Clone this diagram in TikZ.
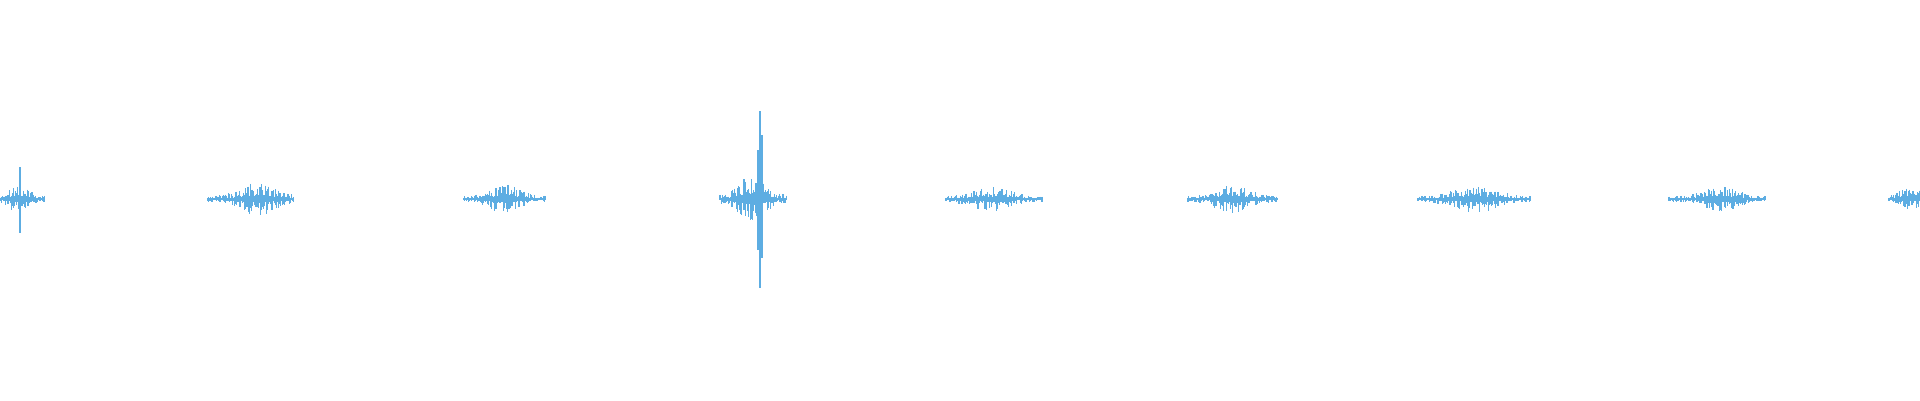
\documentclass[tikz,border=0pt]{standalone}
\usepackage{tikz}
\definecolor{waveblue}{HTML}{5DADE2}
\tikzset{
  wave/.style={draw=waveblue, line width=1.1pt},
  spike/.style={draw=waveblue, line width=1.6pt}
}
\begin{document}
\begin{tikzpicture}[x=1pt, y=-1pt]
\useasboundingbox[fill=white] (0,0) rectangle (1920,400);
\pgfmathsetseed{4242}
% bursts: start/end/centre/spread/amplitude
\foreach \xa/\xb/\cx/\sp/\amp in {
  0/45/18/14/14,
  208/294/258/22/17,
  464/546/505/20/15,
  720/787/752/16/24,
  946/1043/992/28/12,
  1188/1278/1232/22/15,
  1418/1531/1475/28/14,
  1669/1765/1720/22/14,
  1889/1920/1910/16/11
} {
  \draw[wave, line width=1.5pt] (\xa,199) -- (\xb,199);
  \pgfmathtruncatemacro\nsteps{(\xb-\xa)/0.8}
  \foreach \k in {0,...,\nsteps} {
    \pgfmathsetmacro\x{\xa+0.8*\k}
    \pgfmathsetmacro\env{\amp*(0.2+0.8*exp(-((\x-\cx)/\sp)^2))}
    \pgfmathsetmacro\up{\env*(0.2+0.8*rnd^2)}
    \pgfmathsetmacro\dn{\env*(0.2+0.8*rnd^2)}
    \draw[wave] (\x,199-\up) -- (\x,199+\dn);
  }
}
% tall spikes
\draw[spike] (20,167) -- (20,233);
\draw[spike] (760,111) -- (760,288);
\draw[spike] (758,150) -- (758,250);
\draw[spike] (762,135) -- (762,258);
\end{tikzpicture}
\end{document}
